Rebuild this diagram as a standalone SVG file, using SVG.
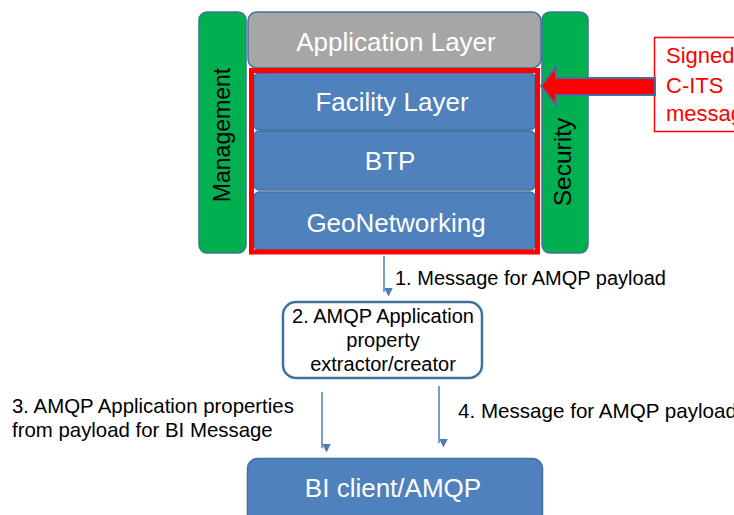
<svg xmlns="http://www.w3.org/2000/svg" width="734" height="515" viewBox="0 0 734 515">
  <style>
    .lbl { font-family: "Liberation Sans", Arial, sans-serif; }
    .white { fill: #ffffff; font-size: 26px; text-anchor: middle; }
    .side { fill: #000000; font-size: 23px; text-anchor: middle; }
    .note { fill: #000000; font-size: 20px; }
    .layer { fill: #4F81BD; stroke: #41719C; stroke-width: 1.5; }
    .green { fill: #00B050; stroke: #41719C; stroke-width: 1.5; }
    .flow { stroke: #4A7EBB; stroke-width: 1.5; fill: none; marker-end: url(#head); }
  </style>
  <defs>
    <marker id="head" viewBox="0 0 10 10" refX="5" refY="10" markerWidth="9" markerHeight="9" markerUnits="userSpaceOnUse" orient="auto-start-reverse">
      <path d="M0,0 L10,0 L5,10 Z" fill="#4A7EBB" transform="rotate(-90 5 5)"/>
    </marker>
  </defs>

  <!-- Management column -->
  <g id="management">
    <rect x="199" y="12" width="47" height="241" rx="8" class="green"/>
    <text class="lbl side" transform="translate(230 135) rotate(-90)">Management</text>
  </g>

  <!-- Security column -->
  <g id="security">
    <rect x="542" y="12" width="46" height="241" rx="8" class="green"/>
    <text class="lbl side" style="font-size:24.5px" transform="translate(571 162) rotate(-90)">Security</text>
  </g>

  <!-- Application layer -->
  <g id="application-layer">
    <rect x="248" y="12" width="293" height="56" rx="9" fill="#A6A6A6" stroke="#41719C" stroke-width="1.5"/>
    <text class="lbl white" x="396" y="51">Application Layer</text>
  </g>

  <!-- Stack layers -->
  <g id="facility-layer">
    <rect x="254" y="73" width="281" height="57" rx="5" class="layer"/>
    <text class="lbl white" x="392" y="111">Facility Layer</text>
  </g>
  <g id="btp">
    <rect x="254" y="131" width="281" height="59" rx="5" class="layer"/>
    <text class="lbl white" x="390" y="170">BTP</text>
  </g>
  <g id="geonetworking">
    <rect x="254" y="192" width="281" height="58" rx="5" class="layer"/>
    <text class="lbl white" x="396" y="232">GeoNetworking</text>
  </g>

  <!-- Highlight frame round the signed stack -->
  <g id="signed-frame">
    <rect x="251.5" y="70.5" width="286" height="181.5" fill="none" stroke="#FF0000" stroke-width="5"/>
  </g>

  <!-- Incoming signed message -->
  <g id="signed-message">
    <rect x="654.5" y="37.5" width="90" height="94" fill="#ffffff" stroke="#FF0000" stroke-width="1.5"/>
    <text class="lbl" x="666" y="63" font-size="22" fill="#FF0000">Signed</text>
    <text class="lbl" x="666" y="93" font-size="22" fill="#FF0000">C-ITS</text>
    <text class="lbl" x="666" y="121" font-size="22" fill="#FF0000">message</text>
  </g>

  <!-- AMQP property extractor -->
  <g id="amqp-extractor">
    <rect x="283" y="302" width="199" height="76" rx="13" fill="#ffffff" stroke="#41719C" stroke-width="2.5"/>
    <text class="lbl note" x="383" y="323" text-anchor="middle">2. AMQP Application</text>
    <text class="lbl note" x="383" y="347" text-anchor="middle">property</text>
    <text class="lbl note" x="383" y="371" text-anchor="middle">extractor/creator</text>
  </g>

  <!-- BI client -->
  <g id="bi-client">
    <rect x="247.5" y="458.5" width="295" height="70" rx="10" class="layer"/>
    <text class="lbl white" x="393" y="497">BI client/AMQP</text>
  </g>

  <!-- Connectors -->
  <g id="connectors">
    <polygon points="541,86 556,67 556,78 655,78 655,95 556,95 556,105" fill="#FF0000" stroke="#41719C" stroke-width="2" stroke-linejoin="miter"/>
    <line x1="384" y1="256" x2="384" y2="292" class="flow"/>
    <line x1="322" y1="392" x2="322" y2="448" class="flow"/>
    <line x1="439" y1="386" x2="439" y2="443" class="flow"/>
    <text class="lbl note" x="395" y="285">1. Message for AMQP payload</text>
    <text class="lbl note" x="12" y="413" style="font-size:20.4px">3. AMQP Application properties</text>
    <text class="lbl note" x="12" y="437" style="font-size:20.4px">from payload for BI Message</text>
    <text class="lbl note" x="458" y="418" style="font-size:20.6px">4. Message for AMQP payload</text>
  </g>
</svg>
